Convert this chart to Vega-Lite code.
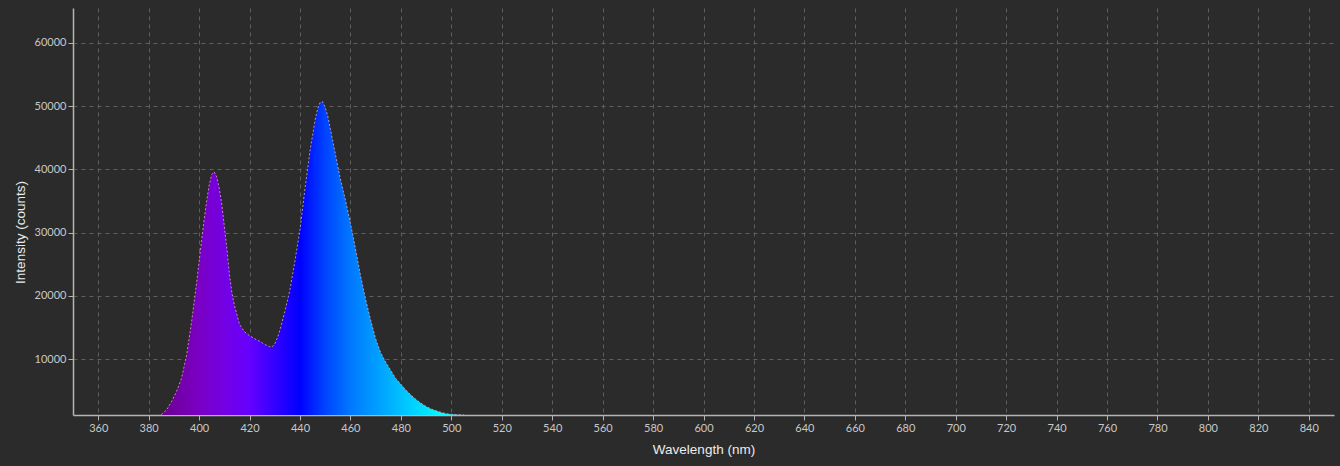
{
  "$schema": "https://vega.github.io/schema/vega-lite/v6.json",
  "autosize": {"type": "none"},
  "width": 1261,
  "height": 407,
  "padding": {"left": 73, "top": 8, "right": 6, "bottom": 51},
  "background": "#2b2b2b",
  "config": {
    "view": {"stroke": null},
    "axis": {
      "domainColor": "#b4b4b4",
      "domainWidth": 1.5,
      "tickColor": "#b4b4b4",
      "tickSize": 5,
      "gridColor": "#5e5e5e",
      "gridDash": [4, 4],
      "gridWidth": 1,
      "labelColor": "#c8c8c8",
      "labelFont": "Lato",
      "labelFontSize": 11,
      "titleColor": "#ececec",
      "titleFont": "Liberation Sans",
      "titleFontWeight": "normal",
      "titleFontSize": 13.5
    }
  },
  "data": {
    "values": [
      {"nm": 385, "v": 1200}, {"nm": 387, "v": 1900}, {"nm": 389, "v": 3200},
      {"nm": 391, "v": 4800}, {"nm": 393, "v": 6900}, {"nm": 395, "v": 10500},
      {"nm": 397, "v": 15800}, {"nm": 399, "v": 22000}, {"nm": 401, "v": 28800},
      {"nm": 402, "v": 32000}, {"nm": 403, "v": 35000}, {"nm": 404, "v": 37500},
      {"nm": 405, "v": 39200}, {"nm": 406, "v": 39600}, {"nm": 407, "v": 38800},
      {"nm": 408, "v": 37000}, {"nm": 409, "v": 34500}, {"nm": 410, "v": 31000},
      {"nm": 411, "v": 27500}, {"nm": 412, "v": 23500}, {"nm": 413, "v": 20500},
      {"nm": 414, "v": 18500}, {"nm": 415, "v": 17000}, {"nm": 416, "v": 15500},
      {"nm": 418, "v": 14300}, {"nm": 420, "v": 13700}, {"nm": 422, "v": 13200},
      {"nm": 424, "v": 12800}, {"nm": 426, "v": 12300}, {"nm": 428, "v": 11950},
      {"nm": 429, "v": 11900}, {"nm": 430, "v": 12400}, {"nm": 431, "v": 13300},
      {"nm": 432, "v": 14500}, {"nm": 434, "v": 17500}, {"nm": 436, "v": 20900},
      {"nm": 438, "v": 25500}, {"nm": 440, "v": 30400}, {"nm": 442, "v": 37000},
      {"nm": 444, "v": 43000}, {"nm": 446, "v": 47800}, {"nm": 447, "v": 49600},
      {"nm": 448, "v": 50600}, {"nm": 449, "v": 50700}, {"nm": 450, "v": 49800},
      {"nm": 451, "v": 48500}, {"nm": 452, "v": 46500}, {"nm": 453, "v": 44500},
      {"nm": 454, "v": 42500}, {"nm": 456, "v": 38500}, {"nm": 458, "v": 35200},
      {"nm": 460, "v": 31500}, {"nm": 462, "v": 27500}, {"nm": 464, "v": 23200},
      {"nm": 466, "v": 19500}, {"nm": 468, "v": 16200}, {"nm": 470, "v": 13200},
      {"nm": 472, "v": 11000}, {"nm": 474, "v": 9500}, {"nm": 476, "v": 8200},
      {"nm": 478, "v": 6900}, {"nm": 480, "v": 6000}, {"nm": 482, "v": 5100},
      {"nm": 484, "v": 4300}, {"nm": 486, "v": 3600}, {"nm": 488, "v": 3000},
      {"nm": 490, "v": 2500}, {"nm": 492, "v": 2100}, {"nm": 494, "v": 1800},
      {"nm": 496, "v": 1550}, {"nm": 498, "v": 1350}, {"nm": 500, "v": 1250},
      {"nm": 502, "v": 1180}, {"nm": 505, "v": 1150}
    ]
  },
  "encoding": {
    "x": {
      "field": "nm", "type": "quantitative",
      "scale": {"domain": [350, 850], "nice": false, "zero": false},
      "axis": {
        "values": [360,380,400,420,440,460,480,500,520,540,560,580,600,620,640,660,680,700,720,740,760,780,800,820,840],
        "title": "Wavelength (nm)",
        "labelPadding": 2,
        "titleY": 34,
        "titleBaseline": "middle",
        "titleFontSize": 13.5
      }
    },
    "y": {
      "field": "v", "type": "quantitative",
      "scale": {"domain": [1140, 65535], "nice": false, "zero": false},
      "axis": {
        "values": [10000, 20000, 30000, 40000, 50000, 60000],
        "format": "d",
        "title": "Intensity (counts)",
        "labelPadding": 2,
        "titleX": -53,
        "titleY": 224,
        "titleAngle": -90,
        "titleAlign": "center",
        "titleBaseline": "middle"
      }
    }
  },
  "layer": [
    {
      "mark": {
        "type": "area",
        "clip": true,
        "color": {
          "gradient": "linear",
          "x1": 0, "x2": 1, "y1": 0, "y2": 0,
          "stops": [
            {"offset": 0, "color": "#6c0090"},
            {"offset": 0.125, "color": "#7a00c4"},
            {"offset": 0.208, "color": "#7400e4"},
            {"offset": 0.292, "color": "#6600ff"},
            {"offset": 0.375, "color": "#3400ff"},
            {"offset": 0.458, "color": "#0000ff"},
            {"offset": 0.542, "color": "#0044ff"},
            {"offset": 0.625, "color": "#0078ff"},
            {"offset": 0.708, "color": "#009cff"},
            {"offset": 0.792, "color": "#00c0ff"},
            {"offset": 0.875, "color": "#00e4ff"},
            {"offset": 0.93, "color": "#00ffff"},
            {"offset": 1, "color": "#00ffee"}
          ]
        }
      },
      "encoding": {"y2": {"datum": 1140}}
    },
    {
      "mark": {"type": "line", "clip": true, "color": "#e0a8c0", "strokeWidth": 1, "strokeDash": [2, 2], "opacity": 0.8},
      "encoding": {}
    }
  ]
}
